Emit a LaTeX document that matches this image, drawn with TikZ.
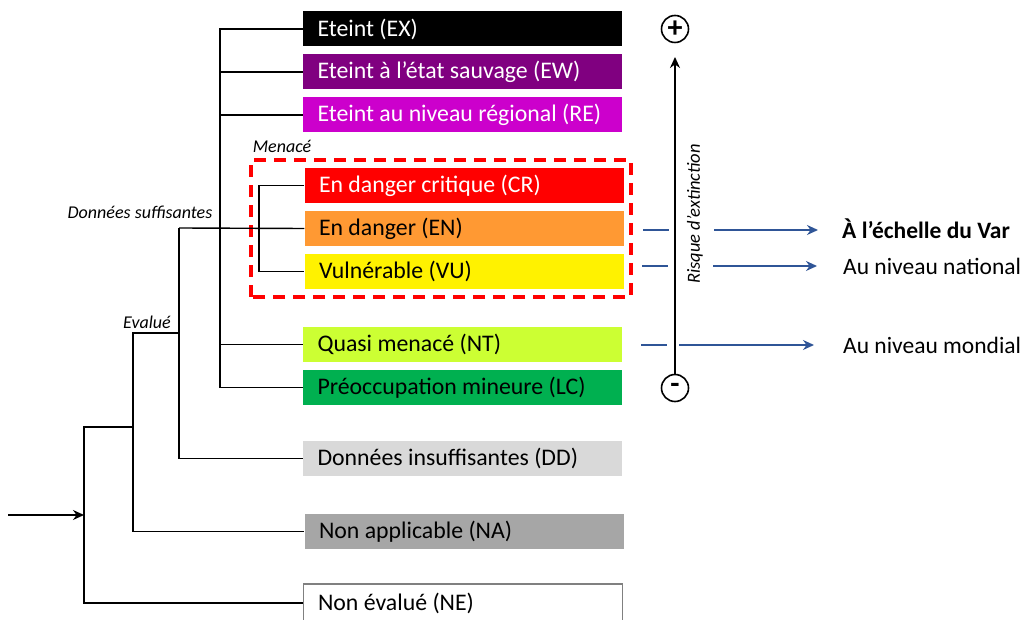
\documentclass[tikz,border=0pt]{standalone}
\usepackage{fontspec}
\setmainfont{Carlito}
\usetikzlibrary{arrows, arrows.meta, positioning}
\definecolor{ewpurple}{RGB}{128,0,128}
\definecolor{remagenta}{RGB}{204,0,204}
\definecolor{enorange}{RGB}{255,153,51}
\definecolor{ntgreen}{RGB}{204,255,51}
\definecolor{lcgreen}{RGB}{0,176,80}
\definecolor{ddgray}{RGB}{217,217,217}
\definecolor{nagray}{RGB}{166,166,166}
\definecolor{negray}{RGB}{128,128,128}
\definecolor{scaleblue}{RGB}{47,85,151}
\tikzstyle{categorie} = [rectangle, minimum width=319pt, minimum height=35pt, inner xsep=14.5pt, inner ysep=0pt, font=\fontsize{23.8}{28}\selectfont, execute at begin node={\hbox to 290pt\bgroup}, execute at end node={\hfil\egroup}]
\tikzstyle{etiquette} = [font=\fontsize{18}{22}\selectfont\itshape, inner sep=0pt]
\tikzstyle{echelle} = [font=\fontsize{23.5}{28}\selectfont, anchor=west, inner sep=0pt]
\tikzstyle{branche} = [line width=1.4pt]
\tikzstyle{arrow} = [line width=1.6pt,-{Stealth[length=11pt,width=10pt]}]
\tikzstyle{bluearrow} = [line width=1.6pt, draw=scaleblue, -{Stealth[length=11pt,width=10pt]}, fill=scaleblue]
\tikzstyle{signe} = [circle, draw=black, line width=1.6pt, minimum size=27pt, inner sep=0pt, font=\fontsize{30}{30}\selectfont\bfseries]

\begin{document}
\begin{tikzpicture}[x=1pt, y=1pt, node distance=43pt]
\useasboundingbox (0,0) rectangle (1026,619);

        % Categories
        \node (ex) [categorie, fill=black, text=white] at (462.5,590) {Eteint (EX)};
        \node (ew) [categorie, fill=ewpurple, text=white, below of=ex] {Eteint à l’état sauvage (EW)};
        \node (re) [categorie, fill=remagenta, text=white, below of=ew] {Eteint au niveau régional (RE)};
        \node (cr) [categorie, fill=red, text=white] at (464,433.5) {En danger critique (CR)};
        \node (en) [categorie, fill=enorange, below of=cr] {En danger (EN)};
        \node (vu) [categorie, fill=yellow, below of=en] {Vulnérable (VU)};
        \node (nt) [categorie, fill=ntgreen] at (462.5,274.5) {Quasi menacé (NT)};
        \node (lc) [categorie, fill=lcgreen, below of=nt] {Préoccupation mineure (LC)};
        \node (dd) [categorie, fill=ddgray] at (462.5,160.5) {Données insuffisantes (DD)};
        \node (na) [categorie, fill=nagray] at (464,87.5) {Non applicable (NA)};
        \node (ne) [categorie, draw=negray, line width=1.5pt, minimum height=38pt] at (463,16) {Non évalué (NE)};

        % Groupe menace
        \draw [red, line width=3.2pt, dash pattern=on 12pt off 8pt] (251,322) rectangle (631,459);
        \node (menace) [etiquette] at (282,473) {Menacé};
        \node (suffisantes) [etiquette] at (140,407) {Données suffisantes};
        \node (evalue) [etiquette] at (147,297) {Evalué};

        % Arbre
        \coordinate (bus) at (220,391);
        \coordinate (menbus) at (259,391);
        \coordinate (suff) at (179,391);
        \coordinate (evalj) at (179,286);
        \coordinate (evalb) at (133,192);
        \coordinate (root) at (84,104);
        \coordinate (start) at (8,104);
        \draw [branche] (ex.west) -| (bus) |- (lc.west);
        \draw [branche] (ew.west) -| (bus);
        \draw [branche] (re.west) -| (bus);
        \draw [branche] (nt.west) -| (bus);
        \draw [branche] (cr.west) -| (menbus) |- (vu.west);
        \draw [branche] (en.west) -- (suff);
        \draw [branche] (dd.west) -| (suff);
        \draw [branche] (evalj) -| (evalb) |- (na.west);
        \draw [branche] (evalb) -| (root) |- (ne.west);
        \draw [arrow] (start) -- (root);

        % Risque
        \node (plus) [signe] at (675,590) {+};
        \node (moins) [signe] at (675,231) {-};
        \coordinate (top) at (675,562);
        \draw [arrow] (moins.north) -- (top);
        \node (risque) [etiquette, font=\fontsize{18.5}{22}\selectfont\itshape, rotate=90] at (695,405) {Risque d’extinction};

        % Echelles
        \node (var) [echelle] at (842,390) {\textbf{À l’échelle du Var}};
        \node (national) [echelle] at (843,353) {Au niveau national};
        \node (mondial) [echelle] at (843,274) {Au niveau mondial};
        \coordinate (t1) at (643,389);
        \coordinate (t2) at (642,353);
        \coordinate (t3) at (641,274);
        \coordinate (a1) at (714,389);
        \coordinate (a2) at (713,353);
        \coordinate (a3) at (679,274);
        \draw [scaleblue, line width=1.6pt] (t1) -- ++(26,0);
        \draw [scaleblue, line width=1.6pt] (t2) -- ++(26,0);
        \draw [scaleblue, line width=1.6pt] (t3) -- ++(26,0);
        \draw [bluearrow] (a1) -- ([xshift=-24pt]var.west |- a1);
        \draw [bluearrow] (a2) -- ([xshift=-26pt]national.west |- a2);
        \draw [bluearrow] (a3) -- ([xshift=-29pt]mondial.west |- a3);

    \end{tikzpicture}
\end{document}
